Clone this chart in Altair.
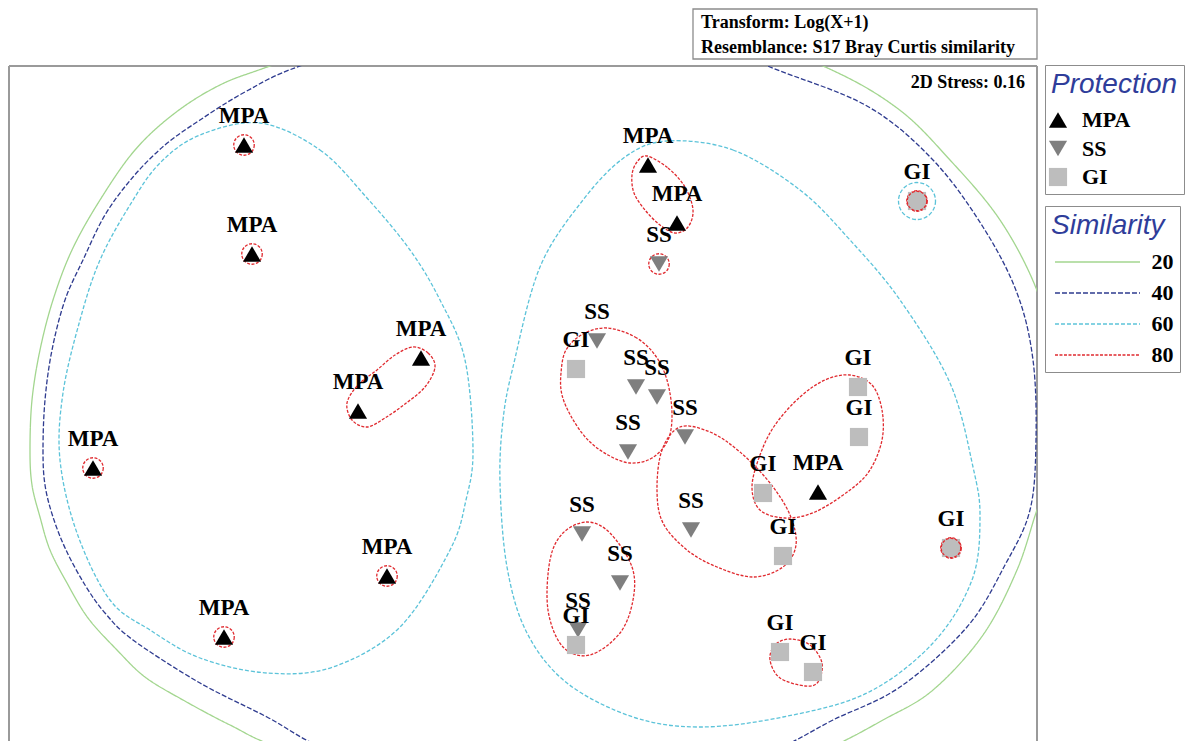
import altair as alt
import pandas as pd

# ---------------- data (nMDS configuration, screen-like units) -------------
sample_group = ["MPA", "MPA", "MPA", "MPA", "MPA", "MPA", "MPA", "MPA", "MPA", "SS",
                "GI", "SS", "GI", "SS", "SS", "SS", "SS", "GI", "GI", "GI",
                "MPA", "SS", "GI", "GI", "SS", "SS", "SS", "GI", "GI", "GI"]
sample_x = [244, 252, 421, 358, 93, 387, 224, 648, 677, 659,
            917, 597, 576, 636, 657, 628, 685, 858, 859, 763,
            818, 691, 783, 951, 582, 620, 578, 576, 780, 813]
sample_y = [145, 254, 358, 411, 468, 576, 637, 165, 223, 264,
            201, 341, 369, 387, 397, 452, 437, 387, 437, 493,
            492, 530, 556, 548, 534, 583, 630, 645, 652, 672]

groups = ["MPA", "SS", "GI"]
group_shapes = ["triangle-up", "triangle-down", "square"]
group_colors = ["#000000", "#7f7f7f", "#bdbdbd"]

levels = ["20", "40", "60", "80"]
level_colors = ["#a3d68f", "#2e3b8f", "#5cc3d9", "#e02a2f"]
level_dashes = [[1, 0], [5, 2], [4, 2], [3, 1.5]]

# samples that form their own contour (circle) at a given similarity level
single_80 = [0, 1, 4, 5, 6, 9, 10, 23]
single_60 = [10]

# contour outlines (control points)
c20_x = [270, 400, 560, 700, 823, 897, 950, 1000, 1036, 1052, 1058, 1050, 1037, 1017, 983, 933, 883, 827,
         740, 580, 420, 283, 230, 183, 145, 117, 88, 67, 50, 40, 32, 30, 32, 40, 53, 72, 100, 135, 175, 220]
c20_y = [66, 20, 8, 20, 66, 108, 160, 220, 288, 350, 420, 480, 510, 570, 635, 690, 720, 749,
         785, 800, 790, 749, 725, 700, 677, 650, 618, 583, 550, 517, 485, 450, 400, 350, 300, 250, 200, 150, 113, 85]
c40_x = [300, 420, 560, 690, 770, 867, 933, 983, 1017, 1033, 1036, 1030, 1005, 967, 900, 833, 777,
         700, 560, 420, 326, 267, 200, 133, 105, 85, 66, 53, 45, 43, 45, 52, 65, 83, 105, 133, 165, 200, 245]
c40_y = [66, 30, 18, 33, 67, 106, 160, 227, 293, 360, 440, 510, 565, 627, 687, 720, 749,
         775, 790, 775, 749, 717, 683, 640, 613, 585, 550, 517, 485, 450, 400, 350, 300, 260, 215, 177, 145, 120, 92]
c60a_x = [260, 320, 367, 410, 440, 465, 473, 466, 450, 400, 333, 267, 200, 150, 110, 77, 60, 63, 80, 100, 130, 160, 200]
c60a_y = [123, 150, 198, 250, 300, 360, 450, 500, 550, 627, 667, 673, 658, 630, 600, 533, 460, 393, 320, 260, 205, 163, 135]
c60b_x = [667, 733, 800, 850, 900, 950, 973, 980, 972, 933, 867, 783, 700, 633, 567, 527, 507, 500, 503, 513, 540, 583, 625]
c60b_y = [141, 150, 190, 240, 300, 383, 467, 517, 580, 643, 693, 717, 727, 717, 683, 633, 567, 483, 420, 367, 267, 200, 157]
c80a_x = [413, 428, 435, 425, 405, 385, 367, 352, 347, 358, 377, 395]
c80a_y = [347, 353, 367, 387, 404, 418, 427, 420, 403, 385, 370, 355]
c80b_x = [647, 668, 685, 693, 688, 675, 660, 645, 634, 632, 637]
c80b_y = [156, 168, 187, 210, 227, 233, 225, 210, 193, 175, 162]
c80c_x = [607, 635, 655, 667, 672, 668, 652, 630, 608, 588, 572, 562, 561, 566, 583]
c80c_y = [328, 337, 355, 380, 413, 440, 458, 463, 455, 440, 418, 395, 373, 350, 334]
c80d_x = [680, 710, 740, 770, 790, 796, 783, 753, 717, 687, 663, 657, 662]
c80d_y = [427, 432, 452, 483, 515, 545, 567, 577, 567, 550, 523, 490, 450]
c80e_x = [850, 872, 882, 882, 870, 850, 815, 785, 760, 752, 760, 775, 800, 825]
c80e_y = [375, 385, 410, 440, 470, 490, 512, 518, 510, 487, 455, 425, 397, 380]
c80f_x = [587, 610, 632, 633, 620, 590, 563, 548, 550, 563]
c80f_y = [522, 533, 567, 600, 633, 655, 647, 610, 560, 533]
c80g_x = [790, 810, 822, 818, 805, 780, 770, 775]
c80g_y = [639, 645, 663, 682, 686, 678, 660, 645]

transform_line = "Transform: Log(X+1)"
resemblance_line = "Resemblance: S17 Bray Curtis similarity"
stress_text = "2D Stress: 0.16"

# ---------------- tables ----------------
samples = pd.DataFrame({"protection": sample_group, "x": sample_x, "y": sample_y})

contours = {
    "c20": ("20", c20_x, c20_y), "c40": ("40", c40_x, c40_y),
    "c60a": ("60", c60a_x, c60a_y), "c60b": ("60", c60b_x, c60b_y),
    "c80a": ("80", c80a_x, c80a_y), "c80b": ("80", c80b_x, c80b_y),
    "c80c": ("80", c80c_x, c80c_y), "c80d": ("80", c80d_x, c80d_y),
    "c80e": ("80", c80e_x, c80e_y), "c80f": ("80", c80f_x, c80f_y),
    "c80g": ("80", c80g_x, c80g_y),
}
rows = []
for cid, (lvl, xs, ys) in contours.items():
    for i, (xv, yv) in enumerate(zip(xs, ys)):
        rows.append({"cid": cid, "level": lvl, "order": i, "x": xv, "y": yv})
contour_df = pd.DataFrame(rows)

single_rows = []
for lvl, idxs in (("80", single_80), ("60", single_60)):
    for i in idxs:
        single_rows.append({"level": lvl, "x": sample_x[i], "y": sample_y[i], "protection": sample_group[i]})
single_df = pd.DataFrame(single_rows)
gi_single_df = single_df[(single_df.protection == "GI") & (single_df.level == "80")]

# ---------------- layout ----------------
W, H = 1028, 675
xscale = alt.Scale(domain=[9, 1037], nice=False, zero=False)
yscale = alt.Scale(domain=[66, 741], reverse=True, nice=False, zero=False)
X = alt.X("x:Q", scale=xscale, axis=None)
Y = alt.Y("y:Q", scale=yscale, axis=None)

title_style = dict(titleFont="Liberation Sans", titleFontSize=28, titleFontStyle="italic",
                   titleFontWeight="normal", titleColor="#2f3d9a",
                   labelFont="Liberation Serif", labelFontSize=22, labelFontWeight="bold",
                   labelColor="black", padding=6, strokeColor="#8c8c8c", fillColor="white",
                   orient="none", direction="vertical")
prot_legend = alt.Legend(legendX=1036, legendY=-1, titlePadding=10, symbolSize=330,
                         symbolOffset=-4, labelOffset=13, rowPadding=6.5, symbolStrokeWidth=0,
                         **title_style)
sim_legend = alt.Legend(legendX=1036, legendY=140, titlePadding=11, symbolType="M-8,0L8,0",
                        symbolSize=113, symbolStrokeWidth=1.5, symbolOffset=35.5,
                        labelOffset=43, rowPadding=9, **title_style)

stroke_enc = alt.Stroke("level:N", scale=alt.Scale(domain=levels, range=level_colors),
                        legend=sim_legend, title="Similarity")
dash_enc = alt.StrokeDash("level:N", scale=alt.Scale(domain=levels, range=level_dashes),
                          legend=sim_legend, title="Similarity")

one = pd.DataFrame({"k": [0]})
frame_color = "#9a9a9a"
frame_left = alt.Chart(one).mark_rule(color=frame_color, strokeWidth=2).encode(
    x=alt.value(0), y=alt.value(0), y2=alt.value(H + 40))
frame_right = alt.Chart(one).mark_rule(color=frame_color, strokeWidth=2).encode(
    x=alt.value(W), y=alt.value(0), y2=alt.value(H + 40))
frame_top = alt.Chart(one).mark_rule(color=frame_color, strokeWidth=2).encode(
    x=alt.value(0), x2=alt.value(W), y=alt.value(0))

lines = alt.Chart(contour_df).mark_line(interpolate="cardinal-closed", clip=True, strokeWidth=1.3).encode(
    x=X, y=Y, stroke=stroke_enc, strokeDash=dash_enc, detail="cid:N", order="order:Q")

circles = alt.Chart(single_df).mark_point(shape="circle", filled=False, strokeWidth=1.3, opacity=1).encode(
    x=X, y=Y, stroke=stroke_enc, strokeDash=dash_enc,
    size=alt.Size("level:O", scale=alt.Scale(domain=["60", "80"], range=[1370, 420]), legend=None))

points = alt.Chart(samples).mark_point(filled=True, opacity=1, size=330, strokeWidth=0).encode(
    x=X, y=Y,
    shape=alt.Shape("protection:N", scale=alt.Scale(domain=groups, range=group_shapes),
                    legend=prot_legend, title="Protection"),
    fill=alt.Fill("protection:N", scale=alt.Scale(domain=groups, range=group_colors),
                  legend=prot_legend, title="Protection"))

gi_disc = alt.Chart(gi_single_df).mark_point(shape="circle", filled=True, fill="#bdbdbd", stroke="#e02a2f",
                                             strokeWidth=1.3, strokeDash=[3, 1.5], size=380, opacity=1).encode(
    x=X, y=Y)

labels = alt.Chart(samples).mark_text(dy=-29, font="Liberation Serif", fontWeight="bold", fontSize=23,
                                      baseline="middle", color="black").encode(x=X, y=Y, text="protection:N")

stress = alt.Chart(one).mark_text(text=stress_text, align="right", baseline="middle", font="Liberation Serif",
                                  fontWeight="bold", fontSize=18, color="black").encode(
    x=alt.value(1016), y=alt.value(17))

info_box = alt.Chart(one).mark_rect(fill="white", stroke="#8c8c8c", strokeWidth=1.3).encode(
    x=alt.value(684), x2=alt.value(1028), y=alt.value(-57), y2=alt.value(-7))
info_text = alt.Chart(one).mark_text(text=[transform_line, resemblance_line], align="left", baseline="top",
                                     font="Liberation Serif", fontWeight="bold", fontSize=18, lineHeight=25,
                                     color="black").encode(x=alt.value(692), y=alt.value(-52))

chart = alt.layer(frame_left, frame_right, frame_top, lines, circles, points, gi_disc, labels,
                  stress, info_box, info_text).properties(
    width=W, height=H,
    padding={"left": 1, "top": 58, "right": 148, "bottom": 0},
    autosize=alt.AutoSizeParams(type="none"),
    background="white",
).configure_view(stroke=None)

chart.save("out.html", embed_options={"renderer": "svg", "actions": False})
